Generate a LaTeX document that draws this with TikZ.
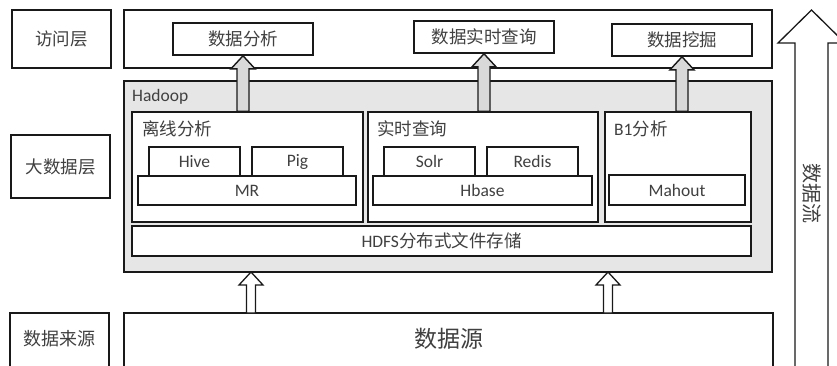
\documentclass[tikz,border=0pt]{standalone}
\usepackage{fontspec}
\setmainfont{Carlito}
\newfontfamily\cjk{Noto Sans CJK SC}
\usetikzlibrary{calc}
\definecolor{txt}{HTML}{404040}
\definecolor{hadoopfill}{HTML}{E6E6E6}
\definecolor{arrfill}{HTML}{D9D9D9}
\tikzset{
  box/.style={draw=black!90, line width=1.6pt, fill=white, inner sep=0pt, text=txt, font=\fontsize{17.5}{19}\selectfont},
  lbl/.style={inner sep=0pt, text=txt, anchor=west, font=\fontsize{17.5}{19}\selectfont},
  grayarrow/.style={draw=black!90, line width=1.4pt, fill=arrfill, line join=miter},
  whitearrow/.style={draw=black!90, line width=1.3pt, fill=white, line join=miter},
}
\newcommand{\blockarrow}[6]{% style, from, to, shaft half, head half, head length
  \draw[#1] let \p1=(#2), \p2=(#3) in
    (\x2-#4,\y1) -- (\x2-#4,\y2-#6) -- (\x2-#5,\y2-#6) -- (\x2,\y2)
    -- (\x2+#5,\y2-#6) -- (\x2+#4,\y2-#6) -- (\x2+#4,\y1) -- cycle;}
\begin{document}
\begin{tikzpicture}[x=1pt,y=-1pt]
\useasboundingbox (0,0) rectangle (837,365);
\clip (0,0) rectangle (837,365);
% left column
\node[box, minimum width=99pt, minimum height=58pt] (L1) at (61.5,39) {\cjk 访问层};
\node[box, minimum width=99pt, minimum height=63pt] (L2) at (60.5,166.5) {\cjk 大数据层};
\node[box, minimum width=99pt, minimum height=62pt] (L3) at (59.5,344) {};
\node[text=txt, inner sep=0pt, font=\fontsize{18}{20}\selectfont] (L3t) at (59.5,339) {\cjk 数据来源};
% access layer
\node[box, minimum width=648pt, minimum height=58pt] (acc) at (448,39) {};
\node[box, minimum width=140pt, minimum height=32pt] (A1) at (243,39) {\cjk 数据分析};
\node[box, minimum width=140pt, minimum height=32pt] (A2) at (484,37) {\cjk 数据实时查询};
\node[box, minimum width=140pt, minimum height=32pt] (A3) at (682,40) {\cjk 数据挖掘};
% hadoop
\node[box, fill=hadoopfill, minimum width=648pt, minimum height=191pt] (had) at (448,176.5) {};
\node[lbl] (hadt) at (132,97) {Hadoop};
\node[box, minimum width=231pt, minimum height=110pt] (off) at (247.5,167) {};
\node[lbl] (offt) at (142,129) {\cjk 离线分析};
\node[box, minimum width=230pt, minimum height=110pt] (rt) at (483,167) {};
\node[lbl] (rtt) at (377,129) {\cjk 实时查询};
\node[box, minimum width=146pt, minimum height=110pt] (bi) at (678,167) {};
\node[lbl] (bit) at (614,129) {B1{\cjk 分析}};
\node[box, minimum width=619pt, minimum height=30pt] (hdfs) at (441.5,241) {HDFS{\cjk 分布式文件存储}};
\node[box, minimum width=91pt, minimum height=29pt] (hive) at (194.5,161.5) {Hive};
\node[box, minimum width=91pt, minimum height=29pt] (pig) at (297.5,161.5) {Pig};
\node[box, minimum width=218pt, minimum height=29pt] (mr) at (247,190.5) {MR};
\node[box, minimum width=91pt, minimum height=29pt] (solr) at (429.5,161.5) {Solr};
\node[box, minimum width=91pt, minimum height=29pt] (redis) at (532.5,161.5) {Redis};
\node[box, minimum width=219pt, minimum height=29pt] (hbase) at (482.5,190.5) {Hbase};
\node[box, minimum width=136pt, minimum height=30pt] (mah) at (677,190) {Mahout};
% data source
\node[box, minimum width=649pt, minimum height=62pt] (src) at (448.5,344) {};
\node[text=txt, inner sep=0pt, font=\fontsize{23}{25}\selectfont] (srct) at (448.5,339) {\cjk 数据源};
% gray arrows
\blockarrow{grayarrow}{off.north}{A1.south}{6pt}{12pt}{13pt}
\blockarrow{grayarrow}{rt.north}{A2.south}{6pt}{12pt}{13pt}
\blockarrow{grayarrow}{bi.north}{A3.south}{6pt}{12pt}{13pt}
% white arrows
\coordinate (s1) at (251,313);
\coordinate (s2) at (608,313);
\coordinate (h1) at (251,272);
\coordinate (h2) at (608,272);
\blockarrow{whitearrow}{s1}{h1}{4.5pt}{12pt}{13pt}
\blockarrow{whitearrow}{s2}{h2}{4.5pt}{12pt}{13pt}
% data flow arrow
\coordinate (dfb) at (811.5,380);
\coordinate (dft) at (811.5,10);
\blockarrow{whitearrow}{dfb}{dft}{16.5pt}{33.5pt}{33pt}
\node[text=txt, inner sep=0pt, rotate=-90, font=\fontsize{20}{22}\selectfont] (dfl) at (812,193) {\cjk 数据流};
\end{tikzpicture}
\end{document}
